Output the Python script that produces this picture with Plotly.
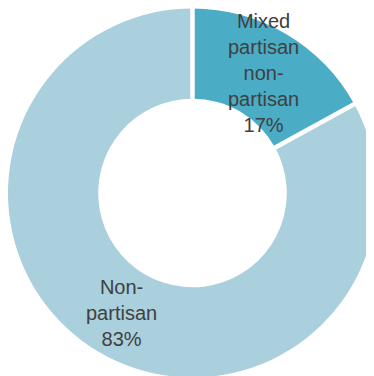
import math
import plotly.graph_objects as go

labels = ["Mixed partisan non-partisan", "Non-partisan"]
values = [17, 83]
label_text = ["Mixed<br>partisan<br>non-<br>partisan", "Non-<br>partisan"]
colors = ["#4bacc6", "#aacfdd"]

W, H = 374, 376
pw, ph = 369, 370
hole = 0.511

fig = go.Figure(go.Pie(
    labels=labels, values=values, sort=False, direction="clockwise", rotation=0,
    hole=hole, textinfo="none", textposition="none", hoverinfo="label+percent",
    marker=dict(colors=colors, line=dict(color="white", width=0)),
    domain=dict(x=[0, pw / W], y=[1 - ph / H, 1]),
    showlegend=False,
))

R = min(pw, ph) / 2
cx, cy = pw / 2, ph / 2
rin = R * hole
rmid = (R + rin) / 2
total = sum(values)


def to_paper(px, py):
    return px / W, 1 - py / H


cum = 0
ann = []
shapes = []
for lab, v in zip(label_text, values):
    start = cum / total * 2 * math.pi
    x0, y0 = to_paper(cx + (rin - 3) * math.sin(start), cy - (rin - 3) * math.cos(start))
    x1, y1 = to_paper(cx + (R + 3) * math.sin(start), cy - (R + 3) * math.cos(start))
    shapes.append(dict(type="line", xref="paper", yref="paper", x0=x0, y0=y0, x1=x1, y1=y1,
                       line=dict(color="white", width=4.5)))
    mid = (cum + v / 2) / total * 2 * math.pi
    cum += v
    px = cx + rmid * math.sin(mid)
    py = cy - rmid * math.cos(mid)
    pct = round(v / total * 100)
    ax, ay = to_paper(px, py)
    ann.append(dict(
        x=ax, y=ay, xref="paper", yref="paper",
        text=f"{lab}<br>{pct}%", showarrow=False, xanchor="center", yanchor="middle",
        font=dict(family="Liberation Sans, Arial", size=20, color="#404040"),
    ))

fig.update_layout(
    width=W, height=H, margin=dict(l=0, r=0, t=0, b=0),
    paper_bgcolor="white", plot_bgcolor="white", annotations=ann, shapes=shapes,
)
fig.write_html(
    "out.html",
    post_script="document.documentElement.style.overflow='hidden';document.body.style.overflow='hidden';",
)
